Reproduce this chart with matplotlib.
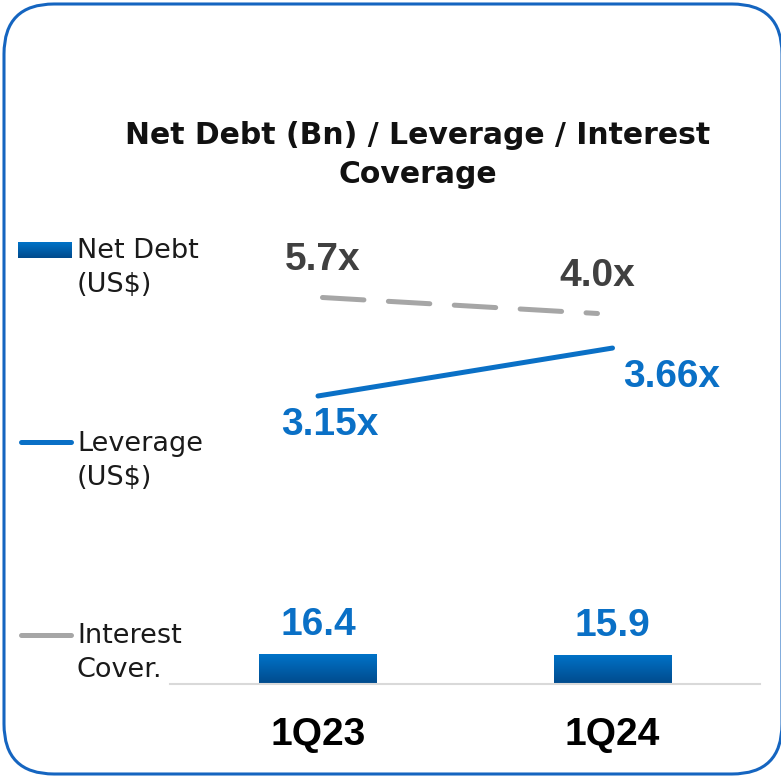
import numpy as np
import matplotlib.pyplot as plt
from matplotlib.patches import FancyBboxPatch
from matplotlib.lines import Line2D
from matplotlib.colors import LinearSegmentedColormap

# data
quarters = ['1Q23', '1Q24']
net_debt = [16.4, 15.9]          # US$ Bn (bars)
leverage = [3.15, 3.66]          # x (solid blue line)
interest_cover = [5.7, 4.0]      # x (dashed gray line)

BLUE = '#0A70C6'
BAR_TOP = '#0073C8'
BAR_BOTTOM = '#004A8C'
GRAY = '#A6A6A6'
DARK_GRAY = '#404040'
BORDER = '#1565C0'
NUM_FONT = 'Liberation Sans'

W, H = 781, 776
bar_cmap = LinearSegmentedColormap.from_list('bar', [BAR_BOTTOM, BAR_TOP])
gradient = np.linspace(0, 1, 256).reshape(-1, 1)


def px_box(x0, y0, x1, y1):
    # pixel box with top-left origin -> figure fraction [left, bottom, width, height]
    return [x0 / W, 1 - y1 / H, (x1 - x0) / W, (y1 - y0) / H]


fig = plt.figure(figsize=(W / 100, H / 100), dpi=100)

# background layer in pixel coordinates: frame, title, legend
bg = fig.add_axes([0, 0, 1, 1], zorder=0)
bg.set_xlim(0, W)
bg.set_ylim(H, 0)
bg.axis('off')
bg.add_patch(FancyBboxPatch((4, 4), 778, 770, boxstyle='round,pad=0,rounding_size=50',
                            fill=False, edgecolor=BORDER, linewidth=2.2))
# multi-line text with va='baseline' sits on its last line
bg.text(418, 183, 'Net Debt (Bn) / Leverage / Interest\nCoverage', ha='center', va='baseline',
        fontsize=21.5, fontweight='bold', color='#111111', linespacing=1.43,
        family='DejaVu Sans')

# legend
bg.imshow(gradient, cmap=bar_cmap, origin='lower', extent=(18, 72, 258, 242), aspect='auto')
bg.add_line(Line2D([20.5, 70.5], [442, 442], color=BLUE, lw=3.6, solid_capstyle='round'))
bg.add_line(Line2D([20.5, 70.5], [634.5, 634.5], color=GRAY, lw=3.6, solid_capstyle='round'))
for y, label in [(292, 'Net Debt\n(US$)'), (485, 'Leverage\n(US$)'), (677, 'Interest\nCover.')]:
    bg.text(77, y, label, ha='left', va='baseline', fontsize=19.5, color='#1A1A1A',
            linespacing=1.4, family='DejaVu Sans')
bg.set_xlim(0, W)
bg.set_ylim(H, 0)

# main chart
box = px_box(170, 200, 760, 684)
x = np.arange(len(quarters))

ax = fig.add_axes(box, zorder=1)
ax.patch.set_visible(False)
bars = ax.bar(x, net_debt, width=0.40, color='none', edgecolor='none')
for b in bars:
    bx, by = b.get_x(), b.get_y()
    im = ax.imshow(gradient, cmap=bar_cmap, origin='lower', aspect='auto',
                   extent=(bx, bx + b.get_width(), by, by + b.get_height()), zorder=2)
    im.set_clip_path(b)
for xi, v in zip(x, net_debt):
    ax.annotate(f'{v:.1f}', xy=(xi, v), xytext=(0, 13.7), textcoords='offset points',
                ha='center', va='baseline', fontsize=28, fontweight='bold', color=BLUE,
                family=NUM_FONT)
    ax.annotate(quarters[xi], xy=(xi, 0), xytext=(0, -44), textcoords='offset points',
                ha='center', va='baseline', fontsize=28, fontweight='bold', color='black',
                family=NUM_FONT, annotation_clip=False)
ax.set_xlim(-0.5025, 1.5008)
ax.set_ylim(0, 265)
ax.set_xticks([])
ax.set_yticks([])
for s in ['top', 'left', 'right']:
    ax.spines[s].set_visible(False)
ax.spines['bottom'].set_color('#D9D9D9')
ax.spines['bottom'].set_linewidth(1.5)

# leverage on its own scale
ax2 = ax.twinx()
ax2.plot(x, leverage, color=BLUE, lw=3.6, solid_capstyle='round')
lev_offsets = [(8.3, -28), (42.8, -28)]
for xi, v, off in zip(x, leverage, lev_offsets):
    ax2.annotate(f'{v:.2f}x', xy=(xi, v), xytext=off, textcoords='offset points',
                 ha='center', va='baseline', fontsize=28, fontweight='bold', color=BLUE,
                 family=NUM_FONT)
ax2.set_ylim(0.086, 5.235)
ax2.axis('off')

# interest coverage on its own scale
ax3 = fig.add_axes(box, zorder=2)
ax3.patch.set_visible(False)
ax3.plot(x, interest_cover, color=GRAY, lw=3.6, dashes=(8.3, 4.9), dash_capstyle='round')
for xi, v in zip(x, interest_cover):
    ax3.annotate(f'{v:.1f}x', xy=(xi, v), xytext=(0, 19.5), textcoords='offset points',
                 ha='center', va='baseline', fontsize=28, fontweight='bold', color=DARK_GRAY,
                 family=NUM_FONT)
ax3.set_xlim(-0.5545, 1.591)
ax3.set_ylim(-35.37, 16.06)
ax3.axis('off')

fig.savefig('out.png', dpi=100)
